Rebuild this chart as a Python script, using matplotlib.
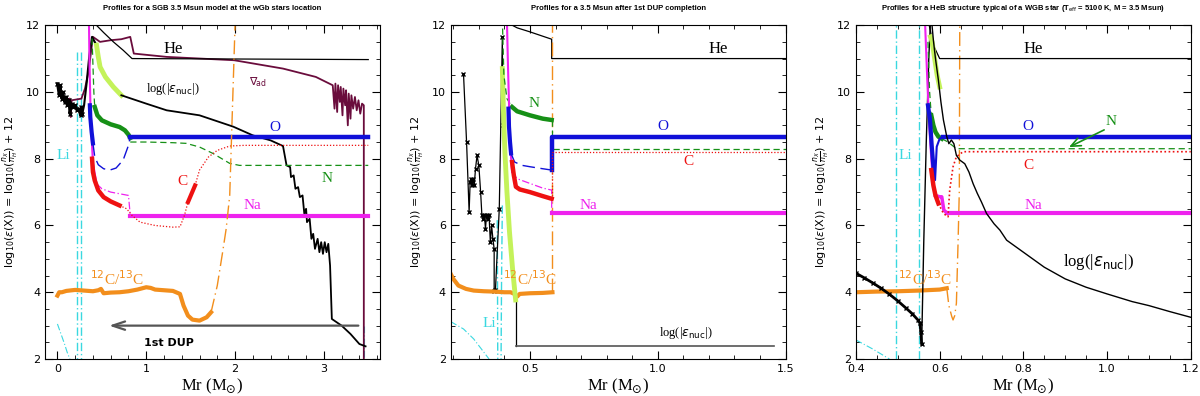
import matplotlib
matplotlib.use("Agg")
import matplotlib.pyplot as plt
from matplotlib.ticker import MultipleLocator

# colours
BLUE = '#1010d8'
RED = '#ee1111'
GREEN = '#169016'
MAG = '#ee22ee'
ORANGE = '#f28e1c'
CYAN = '#3ad8e0'
MAROON = '#6a0c3c'
YGREEN = '#c4f25a'
GREY = '#555555'

# ---------------- panel 1 : SGB model ----------------
p1_he_x = [0.42, 0.52, 0.63, 0.74, 0.84, 3.5]
p1_he_y = [12.05, 11.78, 11.5, 11.25, 11.0, 10.97]

p1_mar_x = [0.05, 0.10, 0.14, 0.15, 0.16, 0.27, 0.31, 0.35, 0.40, 0.48, 0.60, 0.72, 0.82, 0.86,
            1.23, 1.99, 2.54, 2.91, 3.10, 3.12, 3.13, 3.15, 3.16, 3.18, 3.19, 3.21, 3.22, 3.24,
            3.25, 3.27, 3.28, 3.30, 3.31, 3.33, 3.35, 3.37, 3.39, 3.41, 3.43, 3.45, 3.45]
p1_mar_y = [9.78, 9.78, 9.8, 9.25, 9.75, 9.8, 10.1, 10.6, 11.65, 11.5, 11.55, 11.58, 11.65, 11.15,
            11.05, 10.95, 10.7, 10.45, 10.2, 9.5, 10.25, 9.4, 10.2, 9.7, 10.15, 9.3, 10.1, 9.6,
            10.05, 9.0, 9.95, 9.2, 9.9, 9.5, 9.85, 9.45, 9.75, 9.35, 9.65, 9.6, 2.0]

p1_noise_x = [0.0, 0.02, 0.03, 0.05, 0.06, 0.08, 0.10, 0.11, 0.13, 0.14, 0.16, 0.18, 0.20, 0.22,
              0.24, 0.26, 0.27, 0.28]
p1_noise_y = [10.25, 9.9, 10.2, 9.8, 10.0, 9.7, 9.85, 9.6, 9.75, 9.35, 9.65, 9.55, 9.6, 9.45,
              9.5, 9.3, 9.55, 9.35]
p1_nuc_x = [0.28, 0.30, 0.33, 0.36, 0.39, 0.44]
p1_nuc_y = [9.35, 9.6, 10.3, 11.1, 11.65, 11.4]
p1_yel_x = [0.44, 0.46, 0.48, 0.54, 0.63, 0.72]
p1_yel_y = [11.4, 11.05, 10.75, 10.45, 10.15, 9.9]
p1_nuc2_x = [0.72, 1.0, 1.23, 1.6, 1.98, 2.2, 2.4, 2.54, 2.58, 2.62, 2.63, 2.66, 2.68, 2.71, 2.73,
             2.76, 2.78, 2.80, 2.81, 2.84, 2.86, 2.88, 2.90, 2.93, 2.95, 2.97, 2.99, 3.01, 3.03,
             3.05, 3.07, 3.09, 3.20, 3.30, 3.40, 3.47]
p1_nuc2_y = [9.9, 9.65, 9.45, 9.3, 8.96, 8.7, 8.55, 8.38, 7.8, 7.75, 7.45, 7.5, 7.1, 7.15, 6.85,
             6.9, 6.35, 6.5, 6.1, 6.2, 5.6, 5.75, 5.3, 5.6, 5.2, 5.5, 5.15, 5.5, 5.2,
             5.45, 4.8, 3.2, 3.0, 2.75, 2.45, 2.38]

p1_n_dash1_x = [0.39, 0.40, 0.41, 0.42]
p1_n_dash1_y = [11.6, 10.8, 10.0, 9.55]
p1_n_thick_x = [0.42, 0.45, 0.50, 0.60, 0.70, 0.76, 0.80, 0.82]
p1_n_thick_y = [9.55, 9.3, 9.15, 9.03, 8.95, 8.85, 8.72, 8.62]
p1_n_dash2_x = [0.82, 1.0, 1.3, 1.45, 1.6, 1.75, 1.94, 2.05, 3.5]
p1_n_dash2_y = [8.5, 8.5, 8.48, 8.46, 8.35, 8.16, 7.86, 7.8, 7.8]

p1_o_thick_x = [0.365, 0.37, 0.385, 0.40]
p1_o_thick_y = [9.6, 9.25, 8.8, 8.46]
p1_o_dash_x = [0.40, 0.42, 0.46, 0.52, 0.59, 0.66, 0.74, 0.80, 0.82]
p1_o_dash_y = [8.46, 8.06, 7.82, 7.7, 7.66, 7.72, 7.96, 8.4, 8.66]
p1_o_flat_x = [0.82, 3.5]
p1_o_flat_y = [8.66, 8.66]

p1_na_top_x = [0.355, 0.36, 0.375, 0.40, 0.44]
p1_na_top_y = [12.1, 11.0, 9.16, 7.86, 7.25]
p1_na_dd_x = [0.44, 0.5, 0.6, 0.7, 0.8, 0.82]
p1_na_dd_y = [7.25, 7.1, 7.0, 6.95, 6.9, 6.3]
p1_na_flat_x = [0.82, 3.5]
p1_na_flat_y = [6.28, 6.28]

p1_c_thick_x = [0.39, 0.40, 0.42, 0.46, 0.52, 0.60, 0.70]
p1_c_thick_y = [8.0, 7.6, 7.35, 7.05, 6.85, 6.72, 6.6]
p1_c_dot_x = [0.70, 0.78, 0.84, 0.93, 1.1, 1.3, 1.38, 1.43, 1.47]
p1_c_dot_y = [6.6, 6.5, 6.3, 6.1, 6.0, 5.95, 5.96, 6.3, 6.7]
p1_c_thick2_x = [1.47, 1.51, 1.55]
p1_c_thick2_y = [6.7, 6.95, 7.2]
p1_c_dot2_x = [1.55, 1.6, 1.7, 1.8, 1.94, 2.1, 3.5]
p1_c_dot2_y = [7.2, 7.66, 8.05, 8.25, 8.38, 8.4, 8.4]

p1_cc_x = [0.0, 0.02, 0.05, 0.1, 0.2, 0.3, 0.4, 0.46, 0.49, 0.52, 0.6, 0.7, 0.8, 0.9, 1.0, 1.05,
           1.1, 1.2, 1.3, 1.38, 1.42, 1.47, 1.52, 1.6, 1.68, 1.73]
p1_cc_y = [3.9, 4.0, 4.0, 4.04, 4.07, 4.05, 4.03, 4.06, 4.1, 3.97, 3.99, 4.0, 4.03, 4.08, 4.15, 4.13,
           4.08, 4.06, 4.04, 3.95, 3.6, 3.3, 3.18, 3.15, 3.25, 3.4]
p1_cc_dd_x = [1.73, 1.8, 1.86, 1.9, 1.94, 2.0]
p1_cc_dd_y = [3.4, 4.2, 5.2, 5.9, 6.9, 12.0]

p1_li_x = [0.0, 0.04, 0.08, 0.11, 0.14]
p1_li_y = [3.05, 2.75, 2.45, 2.2, 2.0]
p1_li_vert = [0.22, 0.26]

# ---------------- panel 2 : after 1st DUP ----------------
p2_he_x = [0.418, 0.45, 0.50, 0.55, 0.585, 0.585, 1.5]
p2_he_y = [12.05, 11.92, 11.8, 11.67, 11.58, 11.0, 11.0]

p2_nuc_x = [0.24, 0.252, 0.262, 0.266, 0.270, 0.274, 0.278, 0.282, 0.287, 0.293, 0.300, 0.307,
            0.312, 0.318, 0.322, 0.326, 0.330, 0.335, 0.340, 0.345, 0.350, 0.355, 0.36, 0.36,
            0.365, 0.38, 0.392, 0.394]
p2_nuc_y = [10.55, 8.5, 6.4, 7.3, 7.4, 7.2, 7.4, 7.2, 7.7, 8.1, 7.8, 7.0,
            6.3, 6.2, 6.3, 5.9, 6.3, 6.2, 6.3, 5.5, 6.0, 5.6, 5.3, 4.05,
            4.07, 6.5, 11.65, 9.0]
p2_nuc2_x = [0.444, 0.444]
p2_nuc2_y = [3.77, 2.38]
p2_nucflat_x = [0.444, 1.455]
p2_nucflat_y = [2.38, 2.38]

p2_yel_x = [0.392, 0.396, 0.402, 0.41, 0.42, 0.432, 0.444]
p2_yel_y = [10.7, 9.5, 8.2, 7.0, 5.8, 4.7, 3.77]

p2_na_top_x = [0.41, 0.414, 0.418, 0.422, 0.43]
p2_na_top_y = [12.1, 10.8, 9.66, 8.5, 7.6]
p2_na_dd_x = [0.43, 0.45, 0.50, 0.55, 0.585, 0.585]
p2_na_dd_y = [7.6, 7.4, 7.26, 7.12, 7.06, 6.36]
p2_na_flat_x = [0.585, 1.5]
p2_na_flat_y = [6.36, 6.36]

p2_c_thick_x = [0.43, 0.437, 0.445, 0.46, 0.50, 0.55, 0.585]
p2_c_thick_y = [7.9, 7.5, 7.16, 7.08, 7.0, 6.88, 6.8]
p2_c_dot_x = [0.585, 0.585, 1.5]
p2_c_dot_y = [6.8, 8.2, 8.2]

p2_o_thick_x = [0.416, 0.418, 0.422, 0.426]
p2_o_thick_y = [9.5, 8.96, 8.5, 8.16]
p2_o_dash_x = [0.426, 0.44, 0.47, 0.50, 0.55, 0.585]
p2_o_dash_y = [8.16, 7.9, 7.8, 7.76, 7.7, 7.66]
p2_o_flat_x = [0.585, 0.585, 1.5]
p2_o_flat_y = [7.66, 8.66, 8.66]

p2_n_dash1_x = [0.393, 0.398, 0.41, 0.43]
p2_n_dash1_y = [11.9, 10.5, 9.8, 9.55]
p2_n_thick_x = [0.43, 0.45, 0.50, 0.55, 0.585]
p2_n_thick_y = [9.55, 9.42, 9.3, 9.2, 9.16]
p2_n_dash2_x = [0.585, 0.585, 1.5]
p2_n_dash2_y = [9.16, 8.3, 8.3]

p2_cc_x = [0.19, 0.20, 0.22, 0.25, 0.28, 0.32, 0.36, 0.40, 0.424, 0.44, 0.45, 0.46, 0.50, 0.55, 0.588]
p2_cc_y = [4.55, 4.4, 4.2, 4.1, 4.05, 4.03, 4.02, 4.0, 4.0, 3.95, 3.87, 3.95, 3.97, 3.98, 4.0]
p2_cc_dd_x = [0.588, 0.588]
p2_cc_dd_y = [4.0, 12.0]

p2_li_x = [0.19, 0.24, 0.28, 0.31, 0.34]
p2_li_y = [3.12, 2.9, 2.6, 2.3, 2.0]
p2_li1_x = [0.372, 0.373, 0.374]
p2_li1_y = [6.16, 4.5, 2.0]
p2_li2_x = [0.392, 0.389, 0.387]
p2_li2_y = [6.6, 4.5, 2.0]

# ---------------- panel 3 : HeB structure ----------------
p3_he_x = [0.575, 0.585, 0.60, 1.2]
p3_he_y = [12.0, 11.4, 11.0, 11.0]

p3_core_x = [0.40, 0.42, 0.44, 0.46, 0.48, 0.50, 0.52, 0.535, 0.548, 0.553, 0.555, 0.557]
p3_core_y = [4.57, 4.43, 4.28, 4.12, 3.94, 3.74, 3.52, 3.35, 3.17, 3.07, 2.8, 2.45]
p3_nuc_x = [0.557, 0.562, 0.568, 0.574, 0.578]
p3_nuc_y = [2.45, 5.5, 8.5, 11.0, 12.1]
p3_nuc2_x = [0.581, 0.585, 0.59, 0.597, 0.603, 0.609, 0.617, 0.622, 0.628, 0.634, 0.64, 0.648,
             0.66, 0.67, 0.68, 0.69, 0.70, 0.712, 0.73, 0.744, 0.76, 0.8, 0.85, 0.9, 0.95, 1.0,
             1.06, 1.1, 1.15, 1.2]
p3_nuc2_y = [12.1, 11.55, 11.0, 10.35, 9.7, 9.16, 8.66, 8.45, 8.56, 8.45, 8.1, 7.96,
             7.85, 7.6, 7.25, 6.96, 6.7, 6.36, 6.05, 5.86, 5.56, 5.2, 4.75, 4.4, 4.15, 3.95,
             3.72, 3.6, 3.42, 3.25]

p3_yel_x = [0.578, 0.582, 0.588, 0.594, 0.60]
p3_yel_y = [11.65, 11.5, 11.0, 10.5, 10.15]

p3_n_dash1_x = [0.572, 0.576, 0.58]
p3_n_dash1_y = [11.5, 10.0, 9.3]
p3_n_thick_x = [0.58, 0.585, 0.59, 0.597, 0.605]
p3_n_thick_y = [9.3, 9.0, 8.8, 8.66, 8.6]
p3_n_dash2_x = [0.605, 0.62, 0.64, 1.2]
p3_n_dash2_y = [8.6, 8.5, 8.3, 8.3]

p3_o_thick_x = [0.572, 0.577, 0.581, 0.585]
p3_o_thick_y = [9.6, 9.16, 8.4, 7.76]
p3_o_dash_x = [0.585, 0.589, 0.593, 0.60, 0.609]
p3_o_dash_y = [7.76, 7.36, 8.36, 8.6, 8.66]
p3_o_flat_x = [0.609, 1.2]
p3_o_flat_y = [8.66, 8.66]

p3_na_top_x = [0.565, 0.57, 0.575, 0.58, 0.585, 0.59]
p3_na_top_y = [12.1, 10.5, 9.0, 8.0, 7.2, 6.9]
p3_na_bump_x = [0.59, 0.60, 0.605, 0.61, 0.617]
p3_na_bump_y = [6.9, 6.86, 6.86, 6.46, 6.38]
p3_na_flat_x = [0.617, 1.2]
p3_na_flat_y = [6.38, 6.38]

p3_c_thick_x = [0.58, 0.585, 0.59, 0.597]
p3_c_thick_y = [7.66, 7.2, 6.9, 6.66]
p3_c_dot_x = [0.597, 0.609, 0.62, 0.624, 0.632, 0.64, 0.656, 1.2]
p3_c_dot_y = [6.66, 6.36, 6.26, 7.06, 7.76, 8.06, 8.21, 8.21]

p3_cc_x = [0.40, 0.45, 0.50, 0.55, 0.60, 0.617]
p3_cc_y = [4.0, 4.02, 4.03, 4.05, 4.08, 4.12]
p3_cc_dd_x = [0.617, 0.622, 0.629, 0.632, 0.636, 0.64, 0.644, 0.647, 0.648]
p3_cc_dd_y = [4.12, 3.6, 3.27, 3.17, 3.3, 3.67, 5.5, 7.06, 12.0]

p3_li_x = [0.40, 0.44, 0.48]
p3_li_y = [2.57, 2.3, 2.0]
p3_li_vert = [0.495, 0.551]

titles = ["Profiles for a SGB 3.5 Msun model at the wGb stars location",
          "Profiles for a 3.5 Msun after 1st DUP completion",
          r"Profiles for a HeB structure typical of a WGB star (T$_{\rm eff}$ = 5100 K, M = 3.5 Msun)"]

SERIF = 'Liberation Serif'
DASH = (0, (5, 3))
LDASH = (0, (9, 4))
DOT = (0, (1, 1.5))
DDOT = (0, (6, 2, 1, 2))
LDDOT = (0, (10, 3, 1, 3))


def frame(ax, xlim, xmaj, xmin):
    ax.set_xlim(*xlim)
    ax.set_ylim(2, 12)
    ax.xaxis.set_major_locator(MultipleLocator(xmaj))
    ax.xaxis.set_minor_locator(MultipleLocator(xmin))
    ax.yaxis.set_major_locator(MultipleLocator(2))
    ax.yaxis.set_minor_locator(MultipleLocator(0.5))
    ax.tick_params(which='both', direction='in', top=True, right=True, labelsize=8)
    ax.tick_params(which='major', length=6)
    ax.tick_params(which='minor', length=3)
    ax.set_xlabel(r"Mr (M$_{\odot}$)", family=SERIF, fontsize=12, labelpad=2)
    ax.set_ylabel(r"log$_{10}$($\epsilon$(X)) = log$_{10}$($\frac{n_X}{n_H}$) + 12", fontsize=8,
                  labelpad=4)


def lab(ax, x, y, s, c, size=11):
    ax.text(x, y, s, color=c, fontsize=size, family=SERIF, ha='center', va='center')


fig = plt.figure(figsize=(12, 3.96), dpi=100)
axes = [fig.add_axes([0.0375, 0.0934, 0.279, 0.843]),
        fig.add_axes([0.3756, 0.0934, 0.279, 0.843]),
        fig.add_axes([0.7133, 0.0934, 0.279, 0.843])]
for ax, t in zip(axes, titles):
    ax.set_title(t, fontsize=5.5, fontweight='bold', family='Liberation Sans', pad=11)

# panel 1
ax = axes[0]
frame(ax, (-0.14, 3.63), 1, 0.2)
for xv in p1_li_vert:
    ax.plot([xv, xv], [11.2, 2], color=CYAN, lw=1, ls=DDOT)
ax.plot(p1_li_x, p1_li_y, color=CYAN, lw=0.8, ls=DDOT)
ax.plot([3.45, 3.45], [3.0, 2.0], color=CYAN, lw=0.8, ls=DDOT)
ax.plot(p1_mar_x, p1_mar_y, color=MAROON, lw=1.3)
ax.plot(p1_he_x, p1_he_y, color='k', lw=0.9)
ax.plot(p1_noise_x, p1_noise_y, color='k', lw=2, marker='x', ms=3)
ax.plot(p1_nuc_x, p1_nuc_y, color='k', lw=1.5)
ax.plot(p1_yel_x, p1_yel_y, color=YGREEN, lw=3.5)
ax.plot(p1_nuc2_x, p1_nuc2_y, color='k', lw=1.3)
ax.plot(p1_n_dash1_x, p1_n_dash1_y, color=GREEN, lw=0.9, ls=DASH)
ax.plot(p1_n_thick_x, p1_n_thick_y, color=GREEN, lw=3.2)
ax.plot(p1_n_dash2_x, p1_n_dash2_y, color=GREEN, lw=0.9, ls=DASH)
ax.plot(p1_na_top_x, p1_na_top_y, color=MAG, lw=1.5)
ax.plot(p1_na_dd_x, p1_na_dd_y, color=MAG, lw=0.9, ls=DDOT)
ax.plot(p1_na_flat_x, p1_na_flat_y, color=MAG, lw=3)
ax.plot(p1_o_thick_x, p1_o_thick_y, color=BLUE, lw=3)
ax.plot(p1_o_dash_x, p1_o_dash_y, color=BLUE, lw=1, ls=LDASH)
ax.plot(p1_o_flat_x, p1_o_flat_y, color=BLUE, lw=3.2)
ax.plot(p1_c_thick_x, p1_c_thick_y, color=RED, lw=3.2)
ax.plot(p1_c_dot_x, p1_c_dot_y, color=RED, lw=0.9, ls=DOT)
ax.plot(p1_c_thick2_x, p1_c_thick2_y, color=RED, lw=3)
ax.plot(p1_c_dot2_x, p1_c_dot2_y, color=RED, lw=0.9, ls=DOT)
ax.plot(p1_cc_x, p1_cc_y, color=ORANGE, lw=3)
ax.plot(p1_cc_dd_x, p1_cc_dd_y, color=ORANGE, lw=1, ls=LDDOT)
ax.annotate('', xy=(0.55, 3.0), xytext=(3.42, 3.0),
            arrowprops=dict(arrowstyle='->,head_length=0.9,head_width=0.3', color=GREY, lw=1.6))
ax.text(1.25, 2.47, "1st DUP", fontsize=8, fontweight='bold', ha='center', va='center')
ax.text(2.25, 10.3, r"$\nabla_{\!\mathsf{ad}}$", color=MAROON, fontsize=8, ha='center', va='center')
lab(ax, 1.3, 11.3, "He", 'k', 12)
lab(ax, 1.3, 10.08, r"log(|$\epsilon_{\rm nuc}$|)", 'k', 9)
lab(ax, 2.45, 8.93, "O", BLUE)
lab(ax, 3.04, 7.42, "N", GREEN)
lab(ax, 1.41, 7.31, "C", RED)
lab(ax, 2.2, 6.61, "Na", MAG)
lab(ax, 0.07, 8.1, "Li", CYAN)
lab(ax, 0.67, 4.42, r"$^{12}$C/$^{13}$C", ORANGE)

# panel 2
ax = axes[1]
frame(ax, (0.19, 1.5), 0.5, 0.1)
ax.plot(p2_li_x, p2_li_y, color=CYAN, lw=0.8, ls=DDOT)
ax.plot(p2_li1_x, p2_li1_y, color=CYAN, lw=1, ls=DDOT)
ax.plot(p2_li2_x, p2_li2_y, color=CYAN, lw=1, ls=DDOT)
ax.plot(p2_he_x, p2_he_y, color='k', lw=0.9)
ax.plot(p2_nuc_x, p2_nuc_y, color='k', lw=0.9, marker='x', ms=2.5)
ax.plot(p2_nuc2_x, p2_nuc2_y, color='k', lw=0.9)
ax.plot(p2_nucflat_x, p2_nucflat_y, color=GREY, lw=1.2)
ax.plot(p2_cc_x, p2_cc_y, color=ORANGE, lw=3)
ax.plot(p2_cc_dd_x, p2_cc_dd_y, color=ORANGE, lw=1, ls=LDDOT)
ax.plot(p2_yel_x, p2_yel_y, color=YGREEN, lw=3.5)
ax.plot(p2_n_dash1_x, p2_n_dash1_y, color=GREEN, lw=0.9, ls=DASH)
ax.plot(p2_n_thick_x, p2_n_thick_y, color=GREEN, lw=3.2)
ax.plot(p2_n_dash2_x, p2_n_dash2_y, color=GREEN, lw=0.9, ls=DASH)
ax.plot(p2_na_top_x, p2_na_top_y, color=MAG, lw=1.5)
ax.plot(p2_na_dd_x, p2_na_dd_y, color=MAG, lw=0.9, ls=DDOT)
ax.plot(p2_na_flat_x, p2_na_flat_y, color=MAG, lw=3)
ax.plot(p2_o_thick_x, p2_o_thick_y, color=BLUE, lw=3)
ax.plot(p2_o_dash_x, p2_o_dash_y, color=BLUE, lw=1, ls=LDASH)
ax.plot(p2_o_flat_x, p2_o_flat_y, color=BLUE, lw=3.2)
ax.plot(p2_c_thick_x, p2_c_thick_y, color=RED, lw=3.2)
ax.plot(p2_c_dot_x, p2_c_dot_y, color=RED, lw=0.9, ls=DOT)
lab(ax, 1.235, 11.3, "He", 'k', 12)
lab(ax, 1.11, 2.77, r"log(|$\epsilon_{\rm nuc}$|)", 'k', 9)
lab(ax, 1.02, 8.96, "O", BLUE)
lab(ax, 0.516, 9.66, "N", GREEN)
lab(ax, 1.12, 7.91, "C", RED)
lab(ax, 0.73, 6.61, "Na", MAG)
lab(ax, 0.34, 3.07, "Li", CYAN)
lab(ax, 0.5, 4.42, r"$^{12}$C/$^{13}$C", ORANGE)

# panel 3
ax = axes[2]
frame(ax, (0.4, 1.2), 0.2, 0.05)
for xv in p3_li_vert:
    ax.plot([xv, xv], [2, 12], color=CYAN, lw=1, ls=DDOT)
ax.plot(p3_li_x, p3_li_y, color=CYAN, lw=0.8, ls=DDOT)
ax.plot(p3_cc_x, p3_cc_y, color=ORANGE, lw=3)
ax.plot(p3_cc_dd_x, p3_cc_dd_y, color=ORANGE, lw=1, ls=LDDOT)
ax.plot(p3_core_x, p3_core_y, color='k', lw=2, marker='x', ms=3)
ax.plot(p3_nuc_x, p3_nuc_y, color='k', lw=1)
ax.plot(p3_he_x, p3_he_y, color='k', lw=0.9)
ax.plot(p3_yel_x, p3_yel_y, color=YGREEN, lw=3.5)
ax.plot(p3_n_dash1_x, p3_n_dash1_y, color=GREEN, lw=0.9, ls=DASH)
ax.plot(p3_n_thick_x, p3_n_thick_y, color=GREEN, lw=3.2)
ax.plot(p3_n_dash2_x, p3_n_dash2_y, color=GREEN, lw=0.9, ls=DASH)
ax.plot(p3_na_top_x, p3_na_top_y, color=MAG, lw=1.5)
ax.plot(p3_na_bump_x, p3_na_bump_y, color=MAG, lw=2.5)
ax.plot(p3_na_flat_x, p3_na_flat_y, color=MAG, lw=3)
ax.plot(p3_o_thick_x, p3_o_thick_y, color=BLUE, lw=3)
ax.plot(p3_o_dash_x, p3_o_dash_y, color=BLUE, lw=1.5)
ax.plot(p3_o_flat_x, p3_o_flat_y, color=BLUE, lw=3.2)
ax.plot(p3_c_thick_x, p3_c_thick_y, color=RED, lw=3.2)
ax.plot(p3_c_dot_x, p3_c_dot_y, color=RED, lw=1.2, ls=DOT)
ax.plot(p3_nuc2_x, p3_nuc2_y, color='k', lw=1)
ax.annotate('', xy=(0.903, 8.31), xytext=(0.999, 8.9),
            arrowprops=dict(arrowstyle='->,head_length=0.7,head_width=0.3', color=GREEN, lw=1.2))
lab(ax, 0.824, 11.3, "He", 'k', 12)
lab(ax, 0.979, 4.91, r"log(|$\epsilon_{\rm nuc}$|)", 'k', 12)
lab(ax, 0.811, 8.96, "O", BLUE)
lab(ax, 1.01, 9.1, "N", GREEN)
lab(ax, 0.811, 7.81, "C", RED)
lab(ax, 0.824, 6.61, "Na", MAG)
lab(ax, 0.517, 8.1, "Li", CYAN)
lab(ax, 0.565, 4.42, r"$^{12}$C/$^{13}$C", ORANGE)

fig.savefig("out.png", dpi=100)
